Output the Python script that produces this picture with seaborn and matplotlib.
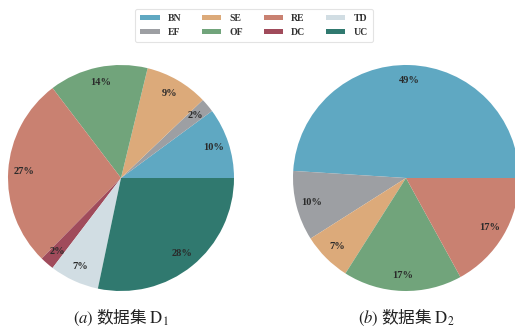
import matplotlib
matplotlib.use("Agg")
import matplotlib.pyplot as plt
from matplotlib.patches import Patch
import seaborn as sns

# Category names and their colours
categories = ["BN", "EF", "SE", "OF", "RE", "DC", "TD", "UC"]
colors = ["#5fa8c2", "#9d9fa3", "#dcaa7a", "#71a47b", "#c98171", "#a04b5b", "#d1dde3", "#30796f"]

# Share of each category (%) in the two datasets
d1_values = [10, 2, 9, 14, 27, 2, 7, 28]
d2_categories = ["BN", "EF", "SE", "OF", "RE"]
d2_values = [49, 10, 7, 17, 17]

captions = [r"$(a)$ 数据集 $\mathrm{D}_1$", r"$(b)$ 数据集 $\mathrm{D}_2$"]

sns.set_theme(style="white")
plt.rcParams["mathtext.fontset"] = "stix"

palette = dict(zip(categories, sns.color_palette(colors)))

W, H = 515, 335
fig = plt.figure(figsize=(W / 100, H / 100), dpi=100)
fig.patch.set_facecolor("white")

R = 113  # pie radius in pixels
centers = [(121, 178), (406, 178)]
datasets = [(categories, d1_values), (d2_categories, d2_values)]

pct_font = dict(family="Liberation Serif", weight="bold", size=7.5, color="#2a2a2a")

for (cx, cy), (cats, vals), cap in zip(centers, datasets, captions):
    ax = fig.add_axes([(cx - R) / W, (H - cy - R) / H, 2 * R / W, 2 * R / H])
    ax.pie(vals, colors=[palette[c] for c in cats], startangle=0, counterclock=True,
           autopct="%.0f%%", pctdistance=0.86, radius=1.0,
           wedgeprops=dict(linewidth=0), textprops=pct_font)
    ax.set_xlim(-1, 1)
    ax.set_ylim(-1, 1)
    ax.set_aspect("equal")
    ax.axis("off")
    fig.text(cx / W, 1 - 318 / H, cap, ha="center", va="center",
             fontsize=12, family="Noto Sans CJK SC", color="#222222")

handles = [Patch(facecolor=palette[c], edgecolor="none") for c in categories]
leg = fig.legend(handles, categories, ncol=4, loc="upper center",
                 bbox_to_anchor=(254 / W, 1 - 4 / H),
                 prop=dict(family="Liberation Serif", weight="bold", size=7),
                 handlelength=2.0, handleheight=0.45, handletextpad=0.85,
                 columnspacing=2.1, labelspacing=0.5, borderpad=0.55,
                 frameon=True, fancybox=True)
leg.get_frame().set_edgecolor("#dddddd")
leg.get_frame().set_linewidth(0.8)
for t in leg.get_texts():
    t.set_color("#333333")

fig.savefig("out.png", dpi=100, facecolor="white")
